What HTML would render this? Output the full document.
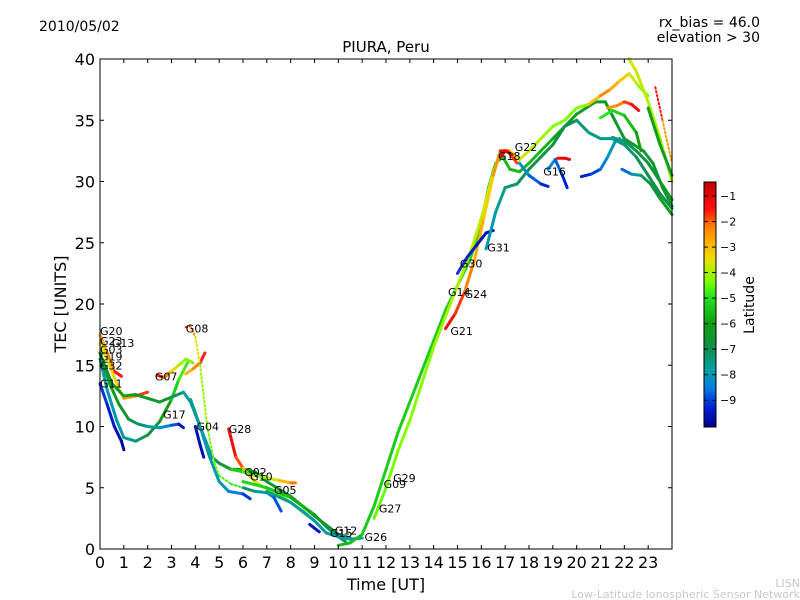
<!DOCTYPE html>
<html><head><meta charset="utf-8"><style>
html,body{margin:0;padding:0;background:#fff;}
svg{display:block;font-family:"DejaVu Sans","Liberation Sans",sans-serif;}
</style></head><body>
<svg id="chart" width="800" height="600" viewBox="0 0 800 600">
<rect width="800" height="600" fill="#fff"/>
<text x="39" y="31" font-size="14">2010/05/02</text>
<text x="760" y="27" font-size="14" text-anchor="end">rx_bias = 46.0</text>
<text x="760" y="42" font-size="14" text-anchor="end">elevation &gt; 30</text>
<text x="386" y="52" font-size="15" text-anchor="middle">PIURA, Peru</text>
<text x="386" y="590" font-size="16" text-anchor="middle">Time [UT]</text>
<text x="66" y="304" font-size="16" text-anchor="middle" transform="rotate(-90 66 304)">TEC [UNITS]</text>
<g id="marks"></g>
<g id="labels"></g>
<g id="axes"></g>
<g id="cbar"></g>
<text x="754" y="305" font-size="14" text-anchor="middle" transform="rotate(-90 754 305)">Latitude</text>
<text x="800" y="587" font-size="11" fill="#c8c8c8" text-anchor="end">LISN</text>
<text x="800" y="598" font-size="11" fill="#c8c8c8" text-anchor="end">Low-Latitude Ionospheric Sensor Network</text>
</svg>
<script>
const xTicks=[0,1,2,3,4,5,6,7,8,9,10,11,12,13,14,15,16,17,18,19,20,21,22,23];
const yTicks=[0,5,10,15,20,25,30,35,40];
const cbTicks=[-1,-2,-3,-4,-5,-6,-7,-8,-9];
const trackTimes=[
[0,0.3,0.6,0.9,1.0],
[0,0.3,0.7,1,1.5,2,2.5,3,3.3,3.7],
[0,0.4,0.8,1.2,1.6,2,2.5,3,3.3,3.5],
[0,0.3,0.6,0.9],
[0,0.4,0.8,1,1.5,2],
[0,0.5,1,1.5,2,2.5,3,3.5,3.8,4.1,4.4,4.7,5,5.5,6,6.5,7,8,9,10,10.5],
[3.8,4.2,4.6,5,5.4,6,6.3],
[4,4.2,4.35],
[2.4,2.7,3,3.3,3.6,3.9],
[3.6,3.9,4.2,4.4],
[3.6,3.8,4,4.2,4.5,4.8,5,5.5,6],
[5.4,5.7,6,6.5,7,7.5,8,8.5,9],
[5.5,6,6.5,7,7.5,8,8.2],
[6,6.5,7,7.3,7.6],
[6,7,8,9,9.5,10,10.3],
[7,8,9,9.5,10,10.5,11],
[8.8,9,9.2],
[10,10.5,11,11.5,12,12.5,13,13.5,14,14.5,15,15.5,16,16.3,16.6,16.9,17.2,17.6,18,18.5,19,19.5,20,20.4,20.8,21.2,21.6,22,22.4,22.8,23.2,23.6,24],
[11.5,12,12.5,13,13.5,14,14.5,15,15.5,16,16.4,16.8,17.2,17.6,18,18.5,19,19.5,20,20.5,21,21.4,21.8,22.2,22.6,23],
[14.5,14.9,15.3,15.7,16.1,16.5,16.8,17.1,17.5],
[15,15.4,15.8,16.2,16.5],
[16.2,16.6,17,17.5,18,18.5,19,19.5,20,20.5,21,21.5,22,22.5,23,23.5,24],
[17.6,18,18.5,18.8],
[18.8,19.1,19.4,19.6],
[19.2,19.5,19.7],
[16.8,17,17.3],
[20.2,20.6,21,21.3,21.6,21.8],
[21.9,22.3,22.7,23.1,23.5,24],
[21.5,22,22.5,23,23.5,24],
[21.3,21.7,22,22.3,22.6],
[22.2,22.5,23,23.5,24],
[21,21.5,22,22.5,22.7],
[23,23.5,24],
[23.3,23.6,24]
];
const trackTec=[
[13.5,11.8,10,8.8,8.1],
[15.5,13,10.5,9.1,8.8,9.3,10.4,12.2,13.8,15.3],
[16,13.5,11.8,10.6,10.2,10,9.9,10.1,10.2,9.9],
[17.5,16,14.5,14.1],
[16.8,15,13,12.3,12.5,12.8],
[16,13.5,12.5,12.6,12.3,12,12.4,12.8,12,10.5,9,7.5,7,6.5,6.5,6.3,5.5,4.3,2.7,1.2,0.9],
[12.2,10,7.5,5.5,4.7,4.5,4.1],
[10,8.5,7.5],
[14.2,14,14.5,15,15.5,15.2],
[14.3,14.7,15.2,16],
[18.1,18.2,17.3,15,10,7,6,5.3,5],
[9.8,7.5,6.6,5.5,4.9,4.4,3.8,3.1,2.3],
[6.5,6.3,6,5.8,5.6,5.4,5.4],
[5,4.7,4.6,4.2,3.1],
[5.5,5,4.2,2.8,1.8,1,0.6],
[4.7,3.8,2.3,1.3,1,0.8,0.9],
[2,1.7,1.4],
[0.3,0.5,1.2,3.5,6.5,9.5,12,14.5,17,19.5,21.5,23.5,26.5,29.5,31.5,32,31,30.8,31.5,32.5,33.5,34.5,35.5,36,36.5,36.5,35,33.5,33,32.5,31.5,29.5,28],
[2.5,5,8,10.5,13.5,16.5,19,21.5,24,27,30,32.5,32.5,31.8,32.5,33.5,34.5,35,36,36.3,37,37.5,38.2,38.8,37.8,37],
[18,19.2,21,23.5,27,30.5,32.5,32.5,31.5],
[22.5,23.8,24.8,25.8,26],
[24.5,27.5,29.5,29.8,31,32,33,34.5,35,34,33.5,33.5,33,32,30.5,29,27.8],
[31.5,30.5,29.8,29.6],
[31,31.8,30.5,29.5],
[31.9,31.9,31.8],
[32,32.5,32.2],
[30.4,30.6,31,32,33.2,33.5],
[31,30.6,30.5,29.8,28.6,27.3],
[33.6,33.3,32.5,31.5,30,28.5],
[36,36.2,36.5,36.3,35.8],
[40,39,36.5,33.5,30],
[35.2,35.8,35.4,34,32.5],
[36,33,30.5],
[37.7,35,31.5]
];
const trackLat=[
[-9,-9.2,-9.5,-9.8,-9.9],
[-7.8,-8,-8,-7.8,-7.5,-7,-6.5,-5.5,-5,-4.5],
[-6,-6,-6.3,-6.8,-7.2,-7.6,-8,-8.6,-9.2,-9.8],
[-3,-2.5,-1.8,-1.2],
[-3.8,-3.5,-3.3,-3,-2.2,-1.3],
[-6.8,-6.5,-6.3,-6.3,-6.5,-6.5,-6.6,-7.8,-7.8,-8,-8,-7.8,-6.5,-6.3,-6.2,-6.2,-6.4,-6.6,-6.8,-7,-7.2],
[-7.5,-7.8,-8,-8,-8.2,-8.8,-9.4],
[-9.5,-9.7,-9.9],
[-1,-1.5,-3,-3.8,-4.2,-4.5],
[-3,-2.6,-2,-1.2],
[-1,-1.8,-3,-4,-4.3,-4.5,-4.6,-4.8,-5],
[-1,-1.5,-2.3,-3.5,-4,-4.5,-5,-5.5,-6],
[-5.5,-5,-4.5,-4,-3.5,-2.5,-1.8],
[-7,-7.5,-8,-8.5,-9.3],
[-5,-5.3,-5.6,-6,-6.5,-7,-7.5],
[-7.5,-7.7,-7.8,-8,-8,-8,-8],
[-9.5,-9.5,-9.5],
[-5.6,-5.5,-5.4,-5.3,-5.3,-5.3,-5.3,-5.3,-5.3,-5.3,-5.3,-5.3,-5.3,-5.2,-5.2,-5.4,-5.6,-5.6,-5.6,-5.6,-5.8,-6,-6.2,-6.2,-6.2,-6.3,-6.4,-6.5,-6.5,-6.6,-6.6,-6.7,-6.8],
[-4.5,-4.4,-4.3,-4.2,-4.2,-4.2,-4,-4,-3.8,-3.8,-3.6,-3.4,-3.4,-3.6,-3.8,-4,-4.2,-4.3,-4.4,-4,-2,-2.5,-3,-3.4,-4,-4.5],
[-1.2,-1.5,-2,-2.5,-3,-3.5,-1.5,-1,-2.5],
[-9,-9.3,-9.5,-9.7,-9.8],
[-8.2,-7.8,-7.5,-7.2,-7,-6.8,-6.8,-7,-7.2,-7.5,-7.6,-7.6,-7.4,-7.2,-7,-6.8,-6.6],
[-8,-8.5,-9,-9.5],
[-8,-8.5,-9,-9.6],
[-1.2,-1,-1],
[-1,-1,-1],
[-9.5,-9.2,-8.8,-8.3,-7.8,-7.5],
[-9.3,-8,-7.5,-7,-6.5,-6],
[-7.8,-7.4,-7,-6.7,-6.4,-6.2],
[-2.5,-2.5,-2,-1.5,-1],
[-3.5,-3.7,-3.9,-4,-4.2],
[-4.8,-5,-5.3,-5.8,-6.2],
[-6,-6.2,-6.4],
[-1,-2,-3]
];
const dottedTracks=[10,33];
const labelNames=["G20","G23","G13","G03","G19","G32","G11","G07","G08","G17","G04","G28","G02","G10","G05","G15","G12","G26","G27","G09","G29","G21","G14","G24","G30","G31","G18","G22","G16"];
const labelTimes=[0,0,0.5,0,0,0,0,2.3,3.6,2.65,4.05,5.4,6.05,6.3,7.3,9.65,9.85,11.1,11.7,11.9,12.3,14.7,14.6,15.3,15.1,16.25,16.7,17.4,18.6];
const labelTecs=[17.8,17,16.8,16.3,15.7,15,13.5,14.1,18,11,10,9.8,6.3,5.9,4.8,1.3,1.5,1,3.3,5.3,5.8,17.8,21,20.8,23.3,24.6,32.1,32.8,30.8];

const NS="http://www.w3.org/2000/svg";
const X0=100,X1=672,Y0=549,Y1=59;
function sx(t){return X0+(X1-X0)*t/24;}
function sy(v){return Y0-(Y0-Y1)*v/40;}
const cmapStops=[[-10.05,[0,0,140]],[-9.3,[0,32,210]],[-8.5,[0,128,224]],[-7.8,[0,160,160]],[-7,[16,144,80]],[-6,[16,160,16]],[-5,[32,224,32]],[-4.3,[128,255,0]],[-3.5,[232,224,0]],[-2.8,[255,176,0]],[-2.2,[255,128,0]],[-1.5,[255,16,16]],[-0.45,[192,0,0]]];
function cmap(l){
  if(l<=cmapStops[0][0])return rgb(cmapStops[0][1]);
  for(let i=1;i<cmapStops.length;i++){
    if(l<=cmapStops[i][0]){const a=cmapStops[i-1],b=cmapStops[i];const f=(l-a[0])/(b[0]-a[0]);
      return rgb(a[1].map((c,k)=>c+(b[1][k]-c)*f));}
  }
  return rgb(cmapStops[cmapStops.length-1][1]);
}
function rgb(c){return "rgb("+c.map(v=>Math.round(v)).join(",")+")";}
function el(tag,attrs,parent){const e=document.createElementNS(NS,tag);for(const k in attrs)e.setAttribute(k,attrs[k]);parent.appendChild(e);return e;}

const marks=document.getElementById('marks');
for(let i=0;i<trackTimes.length;i++){
  const g=el('g',{},marks);
  
  
  const dotted=dottedTracks.indexOf(i)>=0;
  const T=trackTimes[i],V=trackTec[i],L=trackLat[i];
  for(let j=0;j<T.length-1;j++){
    const seg=el('line',{x1:sx(T[j]),y1:sy(V[j]),x2:sx(T[j+1]),y2:sy(V[j+1]),stroke:cmap((L[j]+L[j+1])/2),'stroke-width':dotted?2:3,'stroke-linecap':'round'},g);
    if(dotted)seg.setAttribute('stroke-dasharray','1.5 2.5');
    
    
  }
}
const labs=document.getElementById('labels');
for(let i=0;i<labelNames.length;i++){
  const t=el('text',{x:sx(labelTimes[i]),y:sy(labelTecs[i])+4,'font-size':11,fill:'#000'},labs);
  t.textContent=labelNames[i];
  
  
}
const ax=document.getElementById('axes');
const frame=el('rect',{x:X0,y:Y1,width:X1-X0,height:Y0-Y1,fill:'none',stroke:'#000','stroke-width':1},ax);


xTicks.forEach(t=>{
  const x=sx(t);
  el('line',{x1:x,y1:Y0,x2:x,y2:Y0-4,stroke:'#000'},ax);
  el('line',{x1:x,y1:Y1,x2:x,y2:Y1+4,stroke:'#000'},ax);
  const lb=el('text',{x:x,y:Y0+19,'font-size':16,'text-anchor':'middle'},ax);
  lb.textContent=t;
  
  
});
yTicks.forEach(v=>{
  const y=sy(v);
  el('line',{x1:X0,y1:y,x2:X0+4,y2:y,stroke:'#000'},ax);
  el('line',{x1:X1,y1:y,x2:X1-4,y2:y,stroke:'#000'},ax);
  const lb=el('text',{x:X0-5,y:y+6,'font-size':16,'text-anchor':'end'},ax);
  lb.textContent=v;
  
  
});
const cb=document.getElementById('cbar');
const CB0=427,CB1=182,CX=704,CW=12;
function cy(l){return CB0-(CB0-CB1)*(l+10.05)/(10.05-0.45);}
for(let y=CB1;y<CB0;y++){
  const l=-10.05+(CB0-y-0.5)/(CB0-CB1)*(10.05-0.45);
  el('rect',{x:CX,y:y,width:CW,height:1.2,fill:cmap(l)},cb);
}
const cbf=el('rect',{x:CX,y:CB1,width:CW,height:CB0-CB1,fill:'none',stroke:'#000'},cb);


cbTicks.forEach(l=>{
  const y=cy(l);
  el('line',{x1:CX,y1:y,x2:CX+4,y2:y,stroke:'#000'},cb);
  el('line',{x1:CX+CW,y1:y,x2:CX+CW-4,y2:y,stroke:'#000'},cb);
  const lb=el('text',{x:CX+CW+4,y:y+4,'font-size':11},cb);
  lb.textContent='\u2212'+(-l);
  
  
});
</script>
</body></html>
